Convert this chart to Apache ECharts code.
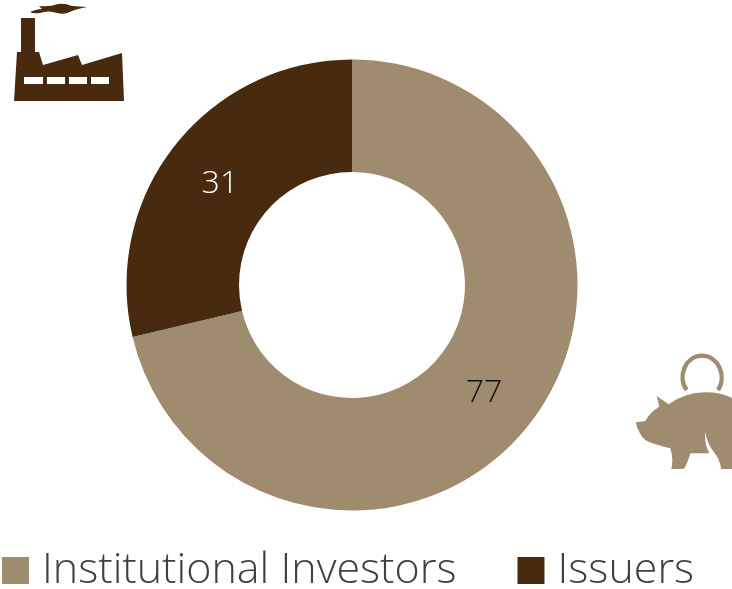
<!DOCTYPE html>
<html>
<head>
<meta charset="utf-8">
<style>
  html, body { margin: 0; padding: 0; background: #fff; }
  #chart { width: 732px; height: 589px; }
</style>
</head>
<body>
<div id="chart"></div>
<script src="https://cdn.jsdelivr.net/npm/echarts@6/dist/echarts.min.js"></script>
<script>
const categories = ['Institutional Investors', 'Issuers'];
const values = [77, 31];
const colors = ['#9f8c6f', '#482a0e'];
const labelColors = ['#111111', '#ffffff'];
const labelOffsets = [[-3, 1], [3, 6]];
const fontName = '"Open Sans", sans-serif';

// icons, the graphic component only knows registered shapes
echarts.graphic.registerShape('factoryIcon', echarts.graphic.extendPath(
  'M30 12 Q37 9 42 9 L39 6 Q50 7 58 4 Q65 3 72 6 L87 7 Q77 9 72 11 Q65 15 57 13 Q48 10 40 13 Q33 14 30 12 Z ' +
  'M21 18 L35 18 L35 52 L39 52 L43 65 L78 55 L82 65 L122 53 L124 101 L14 101 L17 52 L21 52 Z'
));
echarts.graphic.registerShape('pigIcon', echarts.graphic.extendPath(
  'M42 232 L70 228 Q85 200 112 185 L104 153 L140 178 Q190 142 250 142 Q300 142 332 160 L332 372 ' +
  'L298 372 Q292 340 276 322 Q255 295 250 262 Q246 295 262 325 L205 325 Q195 360 185 372 L148 372 ' +
  'Q155 340 145 310 Q105 300 80 290 Q60 285 45 245 Z'
));
echarts.graphic.registerShape('pigRing', echarts.graphic.extendPath(
  'M194 135 C165 95 190 32 240 32 C290 32 315 95 288 135'
));

const myEcharts = echarts.init(document.getElementById('chart'));
myEcharts.setOption({
  animation: false,
  legend: {
    data: categories,
    left: 2,
    top: 549,
    padding: 0,
    itemWidth: 27,
    itemHeight: 27,
    itemGap: 61,
    icon: 'rect',
    textStyle: {
      fontFamily: fontName,
      fontWeight: 300,
      fontSize: 43,
      color: '#404040',
      padding: [0, 0, 0, 8],
    },
  },
  graphic: [
    { type: 'factoryIcon', style: { fill: colors[1] } },
    { type: 'rect', shape: { x: 24, y: 77, width: 19, height: 7 }, style: { fill: '#fff' } },
    { type: 'rect', shape: { x: 47, y: 77, width: 18, height: 7 }, style: { fill: '#fff' } },
    { type: 'rect', shape: { x: 69, y: 77, width: 18, height: 7 }, style: { fill: '#fff' } },
    { type: 'rect', shape: { x: 91, y: 77, width: 18, height: 7 }, style: { fill: '#fff' } },
    {
      type: 'pigIcon',
      x: 622,
      y: 345,
      scaleX: 1 / 3,
      scaleY: 1 / 3,
      style: { fill: colors[0] },
    },
    {
      type: 'pigRing',
      x: 622,
      y: 345,
      scaleX: 1 / 3,
      scaleY: 1 / 3,
      style: { fill: 'none', stroke: colors[0], lineWidth: 13 },
    },
  ],
  series: [
    {
      type: 'pie',
      center: [352, 285],
      radius: [113, 225.5],
      startAngle: 90,
      clockwise: true,
      label: {
        show: true,
        position: 'inside',
        formatter: '{c}',
        fontFamily: fontName,
        fontWeight: 300,
        fontSize: 32,
      },
      labelLine: { show: false },
      emphasis: { disabled: true },
      data: categories.map((name, i) => ({
        name,
        value: values[i],
        itemStyle: { color: colors[i] },
        label: { color: labelColors[i], offset: labelOffsets[i] },
      })),
    },
  ],
});
</script>
</body>
</html>
